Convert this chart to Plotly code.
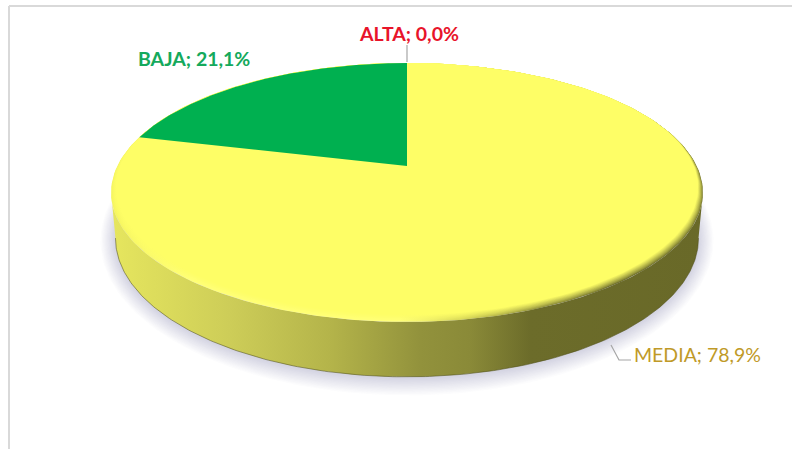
import numpy as np
import plotly.graph_objects as go

# Survey shares, in the clockwise order the slices are drawn from twelve o'clock
categories = ["ALTA", "MEDIA", "BAJA"]
shares = [0.0, 78.9, 21.1]
slice_colors = ["#C00000", "#FFFF66", "#00B050"]
label_colors = ["#E8142A", "#C09A28", "#14A95C"]
label_bold = [True, False, True]

W, H_PX = 792, 449

# Perspective disc geometry, in screen pixels
CX, CY = 407.0, 166.0
K = 0.2047
A, B = 289.7, 124.0
DEPTH = 43.7
BOTTOM_SHRINK = 0.015
BEVEL_RISE, BEVEL_SHRINK = 7.0, 0.022


def project(u, v, drop=0.0, bevel=0.0):
    """Map a point of the unit disc to the screen with a perspective divide."""
    s = 1.0 / (1.0 + K * v)
    near = (1 - v) / 2
    inset = BEVEL_SHRINK * bevel * (0.35 + 0.65 * near)
    x = CX + A * u * s * (1 - BOTTOM_SHRINK * drop) * (1 - inset)
    y = CY - B * v * s + drop * DEPTH * s - bevel * BEVEL_RISE * near
    return x, y


def arc(t0, t1, n=240):
    """Points on the unit circle; angles are clockwise from twelve o'clock."""
    t = np.linspace(t0, t1, n)
    return np.sin(t), np.cos(t)


def hex_rgb(c):
    return np.array([int(c[i:i + 2], 16) for i in (1, 3, 5)], dtype=float)


def mix(c0, c1, f):
    r = hex_rgb(c0) * (1 - f) + hex_rgb(c1) * f
    return "rgb(%d,%d,%d)" % tuple(np.round(r))


FACE = "#FEFE66"
WALL_STOPS = [(111, "#E6E65E"), (230, "#CDCD58"), (330, "#B4B44A"), (420, "#92923C"),
              (470, "#8A8A38"), (530, "#6C6C2A"), (703, "#696928")]
RIM_STOPS = [(111, "#F4F45E"), (190, "#FFFF7A"), (400, "#FFFF7A"), (460, "#D8D858"),
             (540, "#8E8E3A"), (620, "#6C6C2A"), (703, "#7C7C30")]
X0, X1 = 111, 703


def gradient(stops, toward=None, f=0.0):
    scale = []
    for x, c in stops:
        col = mix(c, toward, f) if toward else mix(c, c, 0)
        scale.append([(x - X0) / (X1 - X0), col])
    return dict(type="horizontal", colorscale=scale, start=X0, stop=X1)


fig = go.Figure()


def polygon(x, y, **kw):
    fig.add_trace(go.Scatter(x=x, y=y, mode="lines", fill="toself",
                             line=dict(width=0), hoverinfo="skip",
                             showlegend=False, **kw))


# Soft shadow under the disc
u, v = arc(0, 2 * np.pi)
for grow in np.linspace(15, 1, 14):
    bx, by = project(u, v, drop=1.0)
    mx, my = bx.mean(), by.mean()
    sx = (bx - mx) * (1 + grow / 292) + mx
    sy = (by - my) * (1 + grow / 132) + my + 1
    polygon(sx, sy, fillcolor="rgba(120,122,128,0.021)")

# Side wall: the near half of the rim, swept down to the lower disc
a_k = np.arcsin(K)
u, v = arc(np.pi / 2 + a_k, 3 * np.pi / 2 - a_k)
tx, ty = project(u, v)
bx, by = project(u, v, drop=1.0)
polygon(np.r_[tx, bx[::-1]], np.r_[ty, by[::-1]], fillgradient=gradient(WALL_STOPS))
fig.add_trace(go.Scatter(x=bx, y=by, mode="lines", hoverinfo="skip", showlegend=False,
                         line=dict(color="rgba(80,80,25,0.55)", width=1)))

# Bevel: nested discs fading from the rim colour into the face colour
u, v = arc(0, 2 * np.pi)
steps = np.linspace(0, 1, 11)
for b in steps:
    x, y = project(u, v, bevel=b)
    polygon(x, y, fillgradient=gradient(RIM_STOPS, FACE, b ** 0.8))

# Top face slices, driven by the shares
ends = np.cumsum(shares) / np.sum(shares) * 2 * np.pi
starts = np.r_[0.0, ends[:-1]]
for share, t0, t1, color in zip(shares, starts, ends, slice_colors):
    if share <= 0 or color == "#FFFF66":
        continue
    u, v = arc(t0, t1, 120)
    x, y = project(u, v)
    ax, ay = project(0.0, 0.0)
    polygon(np.r_[ax, x], np.r_[ay, y], fillcolor=color)

# Leader lines
leader = dict(color="#A6A6A6", width=1.2)
fig.add_trace(go.Scatter(x=[407, 407], y=[45, 62], mode="lines", line=leader,
                         hoverinfo="skip", showlegend=False))
fig.add_trace(go.Scatter(x=[611, 619, 631], y=[345, 360, 360], mode="lines", line=leader,
                         hoverinfo="skip", showlegend=False))

# Category labels
label_pos = [(409, 33), (697, 354), (194, 58)]
for name, share, (lx, ly), col, bold in zip(categories, shares, label_pos, label_colors, label_bold):
    text = f"{name}; {share:.1f}%".replace(".", ",")
    if bold:
        text = f"<b>{text}</b>"
    fig.add_annotation(x=lx, y=ly, text=text, showarrow=False, xanchor="center", yanchor="middle",
                       font=dict(family="Lato", size=19.5, color=col))

# Chart area border: only the top and left edges fall inside the frame
border = dict(color="#D9D9D9", width=2)
fig.add_shape(type="line", x0=9, x1=792, y0=6, y1=6, line=border)
fig.add_shape(type="line", x0=9, x1=9, y0=6, y1=449, line=border)

fig.update_layout(
    width=W, height=H_PX, margin=dict(l=0, r=0, t=0, b=0),
    paper_bgcolor="white", plot_bgcolor="white", hovermode=False,
    xaxis=dict(range=[0, W], visible=False, fixedrange=True),
    yaxis=dict(range=[H_PX, 0], visible=False, fixedrange=True),
)
fig.write_html("out.html", config=dict(displayModeBar=False))
